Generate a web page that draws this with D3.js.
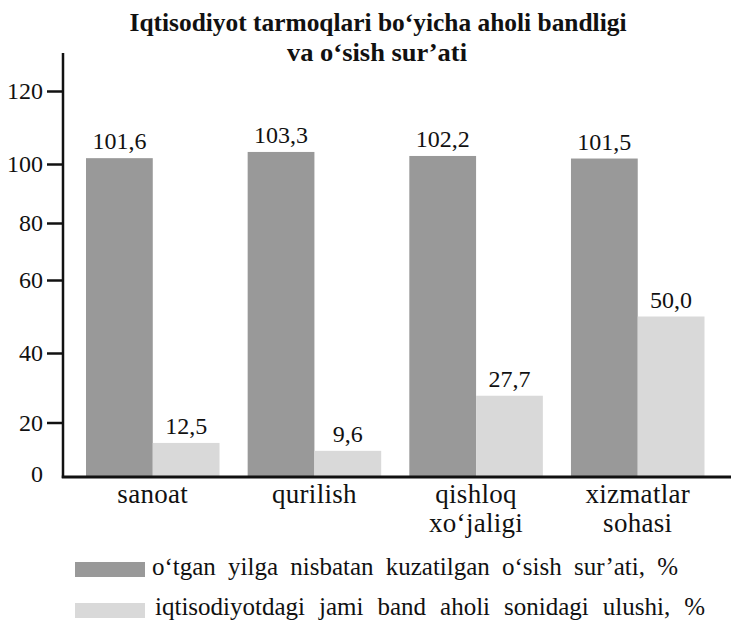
<!DOCTYPE html>
<html>
<head>
<meta charset="utf-8">
<script src="https://cdn.jsdelivr.net/npm/d3@7"></script>
<style>
  html, body { margin: 0; padding: 0; background: #fff; }
  svg { display: block; }
  text { font-family: "Liberation Serif", "Times New Roman", serif; fill: #111; }
</style>
</head>
<body>
<svg id="chart" width="731" height="622"></svg>
<script>
// ---- data ----
const titleLines = ["Iqtisodiyot tarmoqlari bo‘yicha aholi bandligi", "va o‘sish sur’ati"];
const categories = ["sanoat", "qurilish", "qishloq xo‘jaligi", "xizmatlar sohasi"];
const seriesNames = [
  "o‘tgan yilga nisbatan kuzatilgan o‘sish sur’ati, %",
  "iqtisodiyotdagi jami band aholi sonidagi ulushi, %"
];
const growthValues = [101.6, 103.3, 102.2, 101.5];
const shareValues = [12.5, 9.6, 27.7, 50.0];
const yTickValues = [0, 20, 40, 60, 80, 100, 120];
const seriesColors = ["#999999", "#d9d9d9"];

// ---- layout ----
const svg = d3.select("#chart");
const axisX = 63;
const baseY = 477;
const axisTop = 53;

// hand-drawn axis: tick positions are not evenly spaced in the original
const y = d3.scaleLinear()
  .domain(yTickValues)
  .range([477, 422.5, 353, 280, 223, 164, 91]);

const x0 = d3.scaleBand().domain(categories).range([86, 704.5]).paddingInner(0.174).paddingOuter(0);
const x1 = d3.scaleBand().domain([0, 1]).range([0, x0.bandwidth()]).padding(0);

const fmt = v => d3.format(".1f")(v).replace(".", ",");

// ---- title ----
const title = svg.append("g");
title.append("text").attr("x", 378).attr("y", 31).attr("text-anchor", "middle")
  .attr("font-size", 25).attr("font-weight", "bold")
  .attr("textLength", 497).attr("lengthAdjust", "spacingAndGlyphs")
  .text(titleLines[0]);
title.append("text").attr("x", 377).attr("y", 61).attr("text-anchor", "middle")
  .attr("font-size", 25).attr("font-weight", "bold")
  .attr("textLength", 180).attr("lengthAdjust", "spacingAndGlyphs")
  .text(titleLines[1]);

// ---- bars ----
const rows = categories.map((c, i) => ({ cat: c, vals: [growthValues[i], shareValues[i]] }));
const groups = svg.append("g").selectAll("g").data(rows).join("g")
  .attr("transform", d => `translate(${x0(d.cat)},0)`);

groups.selectAll("rect").data(d => d.vals.map((v, k) => ({ v, k }))).join("rect")
  .attr("x", d => x1(d.k))
  .attr("width", x1.bandwidth())
  .attr("y", d => y(d.v))
  .attr("height", d => y(0) - y(d.v))
  .attr("fill", d => seriesColors[d.k]);

groups.selectAll("text.val").data(d => d.vals.map((v, k) => ({ v, k }))).join("text")
  .attr("class", "val")
  .attr("x", d => x1(d.k) + x1.bandwidth() / 2)
  .attr("y", d => y(d.v) - 9)
  .attr("text-anchor", "middle")
  .attr("font-size", 24)
  .text(d => fmt(d.v));

// ---- y axis ----
const yAxis = d3.axisLeft(y).tickValues(yTickValues).tickSize(16).tickPadding(4).tickFormat(d3.format("d"));
const gy = svg.append("g").attr("transform", `translate(${axisX},0)`).call(yAxis);
gy.select(".domain").remove();
gy.selectAll(".tick line").attr("stroke", "#111").attr("stroke-width", 2.5)
  .filter(d => d === 0).remove();
gy.selectAll(".tick text").attr("font-size", 24).attr("fill", "#111")
  .attr("font-family", "Liberation Serif, serif");
gy.selectAll(".tick").filter(d => d === 0).select("text").attr("dy", "0.2em");

svg.append("line").attr("x1", axisX).attr("x2", axisX).attr("y1", axisTop).attr("y2", baseY + 1)
  .attr("stroke", "#111").attr("stroke-width", 2.5);
svg.append("line").attr("x1", axisX - 1.25).attr("x2", 731).attr("y1", baseY).attr("y2", baseY)
  .attr("stroke", "#111").attr("stroke-width", 3);

// ---- category labels ----
const catG = svg.append("g");
categories.forEach(c => {
  const parts = c.split(" ");
  const cx = x0(c) + x0.bandwidth() / 2;
  const t = catG.append("text")
    .attr("x", cx)
    .attr("y", 503)
    .attr("text-anchor", "middle")
    .attr("font-size", 27)
    .attr("letter-spacing", 0.3);
  parts.forEach((p, j) => {
    t.append("tspan").attr("x", cx).attr("dy", j === 0 ? 0 : 29).text(p);
  });
});

// ---- legend ----
const legend = svg.append("g");
const legendRows = [
  { y: 562, textX: 152, textY: 575, len: 526 },
  { y: 603, textX: 155, textY: 615, len: 550 }
];
seriesNames.forEach((name, i) => {
  legend.append("rect").attr("x", 75).attr("y", legendRows[i].y).attr("width", 70).attr("height", 15)
    .attr("fill", seriesColors[i]);
  const t = legend.append("text").attr("x", legendRows[i].textX).attr("y", legendRows[i].textY)
    .attr("font-size", 25)
    .text(name);
  // widen word gaps (not letters) to reach the reference width
  const natural = t.node().getComputedTextLength();
  const spaces = name.split(" ").length - 1;
  const ws = Math.max(0, (legendRows[i].len - natural) / spaces);
  t.attr("word-spacing", ws);
});
</script>
</body>
</html>
